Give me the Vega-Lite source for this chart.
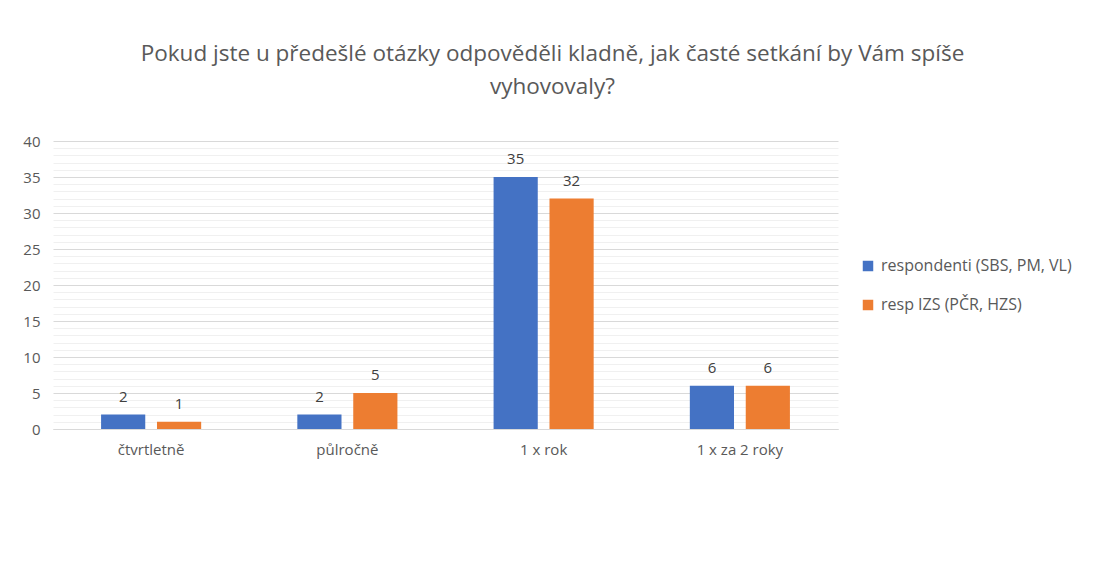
{
  "$schema": "https://vega.github.io/schema/vega-lite/v6.json",
  "width": 785,
  "height": 288,
  "autosize": {"type": "none"},
  "padding": {"left": 53, "top": 141, "right": 266, "bottom": 142},
  "background": "white",
  "config": {
    "view": {"stroke": null},
    "font": "Open Sans"
  },
  "title": {
    "text": ["Pokud jste u předešlé otázky odpověděli kladně, jak časté setkání by Vám spíše", "vyhovovaly?"],
    "fontSize": 22.5,
    "fontWeight": "normal",
    "color": "#595959",
    "font": "Open Sans",
    "anchor": "middle",
    "frame": "group",
    "dx": 107,
    "offset": 36,
    "lineHeight": 33
  },
  "data": {
    "values": [
      {"kategorie": "čtvrtletně", "skupina": "respondenti (SBS, PM, VL)", "pocet": 2},
      {"kategorie": "čtvrtletně", "skupina": "resp IZS (PČR, HZS)", "pocet": 1},
      {"kategorie": "půlročně", "skupina": "respondenti (SBS, PM, VL)", "pocet": 2},
      {"kategorie": "půlročně", "skupina": "resp IZS (PČR, HZS)", "pocet": 5},
      {"kategorie": "1 x rok", "skupina": "respondenti (SBS, PM, VL)", "pocet": 35},
      {"kategorie": "1 x rok", "skupina": "resp IZS (PČR, HZS)", "pocet": 32},
      {"kategorie": "1 x za 2 roky", "skupina": "respondenti (SBS, PM, VL)", "pocet": 6},
      {"kategorie": "1 x za 2 roky", "skupina": "resp IZS (PČR, HZS)", "pocet": 6}
    ]
  },
  "encoding": {
    "x": {
      "field": "kategorie",
      "type": "nominal",
      "sort": ["čtvrtletně", "půlročně", "1 x rok", "1 x za 2 roky"],
      "scale": {"paddingInner": 0.49, "paddingOuter": 0.245},
      "axis": {
        "title": null,
        "labelAngle": 0,
        "labelFontSize": 15,
        "labelColor": "#595959",
        "labelPadding": 13,
        "ticks": false,
        "domainColor": "#d9d9d9",
        "labelFont": "Open Sans"
      }
    },
    "xOffset": {
      "field": "skupina",
      "type": "nominal",
      "sort": ["respondenti (SBS, PM, VL)", "resp IZS (PČR, HZS)"],
      "scale": {"paddingInner": 0.21, "paddingOuter": 0}
    },
    "y": {
      "field": "pocet",
      "type": "quantitative",
      "scale": {"domain": [0, 40], "nice": false},
      "axis": {
        "title": null,
        "values": [0,1,2,3,4,5,6,7,8,9,10,11,12,13,14,15,16,17,18,19,20,21,22,23,24,25,26,27,28,29,30,31,32,33,34,35,36,37,38,39,40],
        "labelExpr": "datum.value % 5 === 0 ? datum.label : ''",
        "labelFontSize": 15,
        "labelColor": "#595959",
        "labelPadding": 13,
        "labelOverlap": false,
        "ticks": false,
        "domain": false,
        "grid": true,
        "gridColor": {"condition": {"test": "datum.value % 5 === 0", "value": "#d9d9d9"}, "value": "#f0f0f0"},
        "gridWidth": 1,
        "labelFont": "Open Sans"
      }
    }
  },
  "layer": [
    {
      "mark": {"type": "bar"},
      "encoding": {
        "color": {
          "field": "skupina",
          "type": "nominal",
          "sort": ["respondenti (SBS, PM, VL)", "resp IZS (PČR, HZS)"],
          "scale": {"range": ["#4472C4", "#ED7D31"]},
          "legend": {
            "title": null,
            "orient": "none",
            "legendX": 807,
            "legendY": 117,
            "symbolType": "square",
            "symbolSize": 110,
            "symbolStrokeWidth": 0,
            "labelFontSize": 16,
            "labelColor": "#595959",
            "labelFont": "Open Sans",
            "labelLimit": 400,
            "rowPadding": 23,
            "labelOffset": 5
          }
        }
      }
    },
    {
      "mark": {"type": "text", "baseline": "bottom", "dy": -10, "fontSize": 15, "color": "#404040", "font": "Open Sans"},
      "encoding": {
        "text": {"field": "pocet", "type": "quantitative"}
      }
    }
  ]
}
